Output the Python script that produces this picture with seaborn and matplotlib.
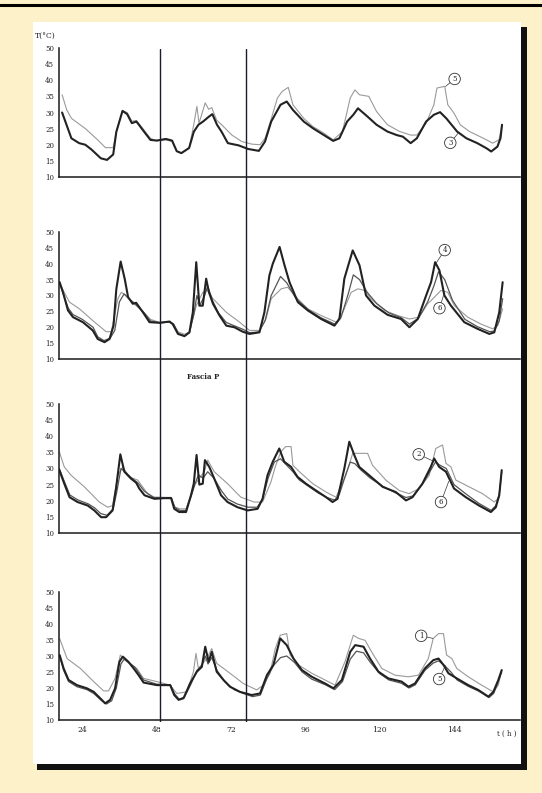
import matplotlib
matplotlib.use("Agg")
import matplotlib.pyplot as plt
import seaborn as sns
from matplotlib.patches import Rectangle
from matplotlib.lines import Line2D

# --- dati (ore, temperatura °C) ---
# Pannello 1
p1_thick_t = [17.5, 19, 20.5, 23, 25, 27, 30, 32, 34, 35,
              37, 38.5, 40, 41.5, 44, 46, 48, 51, 53, 54.5,
              56, 58.5, 60, 61.5, 63, 65, 66, 67.5, 69, 71,
              74.5, 77.5, 81, 83, 85, 88, 90, 92, 95.5, 98.5,
              102, 105, 107, 109.5, 111.5, 113, 116, 119, 122.5, 125.5,
              127.5, 130, 132, 135, 137.5, 139.5, 141.5, 145, 148, 151.5,
              154.5, 156, 158, 159, 159.5]
p1_thick_T = [30, 26, 22, 20.5, 20, 18.5, 15.8, 15.3, 17, 24,
              30.5, 29.5, 26.7, 27.2, 24, 21.5, 21.3, 21.8, 21.3, 18,
              17.4, 19, 24, 26.2, 27.2, 28.8, 29.5, 26.2, 24, 20.5,
              19.8, 18.7, 18.1, 21, 27.2, 32.4, 33.4, 30.8, 27.2, 25.1,
              23, 21.2, 22, 27.2, 29.3, 31.3, 28.8, 26.2, 24.1, 23,
              22.5, 20.5, 22, 27.2, 29.3, 30.1, 28.2, 24.1, 22, 20.5,
              18.9, 17.9, 19.4, 22, 26.2]
p1_thin_t = [17.5, 19, 20.5, 25, 29, 31.5, 34, 35, 37, 38.5,
             40, 41.5, 44, 46, 48, 51, 53, 54.5, 56, 58.5,
             60, 61, 61.7, 63.7, 64.8, 65.8, 67.4, 69, 72.3, 75.5,
             78.7, 81.4, 83, 85, 87, 88.5, 90.5, 92, 95.5, 98.5,
             102, 105, 108, 110.5, 112, 113.5, 116.5, 119, 122.5, 126.5,
             130, 132, 135, 137.5, 138.5, 141, 142, 144, 146, 149,
             153.5, 156.5, 158.5, 159.5]
p1_thin_T = [35.5, 30.8, 28.2, 25, 21.5, 19.1, 19.1, 24, 30.5, 30,
             27.3, 27.5, 24.5, 22, 21.2, 21.5, 21, 18, 17.5, 19,
             26.2, 31.9, 26.7, 33, 31, 31.5, 27.6, 26.2, 23, 21,
             20.2, 20, 22, 28, 34.5, 36.5, 37.8, 32.4, 28.2, 25.6,
             23.6, 21.5, 24.1, 34.5, 37, 35.5, 35, 30.3, 26.2, 24.1,
             23, 23, 26.7, 32.4, 37.6, 38.1, 32.4, 29.8, 26.2, 24.1,
             22, 20.5, 21.5, 26.2]

# Pannello 2
p2_thick_t = [16.7, 17.8, 19.4, 21, 24.2, 27.4, 29, 31.2, 32.8, 34.1,
              35, 36.4, 37.7, 38.8, 40.3, 41.4, 43.6, 45.7, 49, 52.2,
              53.2, 54.9, 57, 58.6, 59.7, 60.8, 61.8, 62.9, 64, 64.9,
              66.2, 68.3, 70.5, 73.1, 75.8, 78, 81.2, 82.8, 84.4, 85.5,
              87.7, 89.3, 90.9, 93.6, 96.8, 101.1, 105.4, 107, 108.6, 111.3,
              113.5, 115.6, 118.3, 122.6, 126.9, 129.6, 132.3, 135, 136.6, 137.9,
              139.3, 140.9, 143, 147.3, 151.6, 155.4, 157, 158.6, 159.7]
p2_thick_T = [34.2, 31, 25.3, 23.2, 21.6, 19, 16.3, 15.3, 16.3, 20.5,
              32, 40.7, 35.3, 29.5, 27.4, 27.7, 24.7, 21.6, 21.4, 21.8,
              21, 17.9, 17.2, 18.4, 24.7, 40.5, 26.8, 26.8, 35.3, 31,
              27.4, 23.7, 20.5, 20, 18.6, 17.9, 18.4, 24.7, 36.3, 40,
              45.3, 39.5, 34.2, 27.9, 25.3, 22.6, 20.5, 22.6, 35.3, 44.2,
              39.5, 30, 26.8, 23.9, 22.6, 20, 22.6, 30, 34.2, 40.5,
              37.9, 30, 26.8, 21.6, 19.5, 17.9, 18.4, 24.7, 34.2]
p2_mid_t = [16.7, 18, 19.5, 21, 24, 27.5, 29, 31, 33, 34.5,
            36, 37.5, 39, 41, 44, 46, 49, 52, 53.5, 55,
            57, 58.6, 60, 61, 62, 63.5, 64.5, 66, 68, 70.5,
            73, 76, 78, 81, 83, 85, 88, 90, 93, 97,
            101, 105.5, 107.5, 110, 111.5, 113.5, 116, 119, 123, 127,
            129.6, 132.5, 135.5, 137.5, 139, 141, 143.5, 147.5, 151.5, 155.5,
            157, 158.6, 159.7]
p2_mid_T = [34, 30, 26, 24, 22.5, 20, 17, 15.8, 16.5, 19,
            28, 30.5, 29, 27.5, 24.5, 22, 21.4, 21.6, 21, 18,
            17.3, 18.3, 24, 30, 27, 30, 33, 28.5, 24.5, 21.5,
            20.5, 19.3, 18.3, 18.5, 22, 30, 36, 34, 29, 25.5,
            23, 21, 23, 31, 36.5, 35, 31, 27.5, 24.5, 23,
            21, 22.8, 28, 33, 37.5, 35, 28.5, 22.5, 20.2, 18.6,
            18.8, 22, 29]
p2_thin_t = [16.7, 19.9, 23.1, 27.4, 31.7, 33.4, 35.5, 36.6, 38.2, 40.3,
             43.6, 46, 49, 52.2, 53.5, 55, 57, 58.6, 60.8, 62.9,
             64.5, 66.2, 70.5, 74.8, 78, 81.2, 83.3, 85, 88.2, 90.3,
             93, 96.8, 101.1, 106, 108.1, 110.8, 113, 115.1, 117.2, 121.5,
             125.8, 129.6, 132.8, 135.5, 137.7, 139.8, 142, 144.1, 148.4, 152.7,
             156.5, 158.1, 159.7]
p2_thin_T = [33.7, 27.9, 25.8, 22.1, 18.6, 18.6, 29, 31, 30, 27.7,
             25, 22.5, 21.5, 21.8, 21, 18.5, 17.8, 18.5, 26.8, 31,
             31.6, 29, 24.7, 21.6, 19, 19, 22.6, 29, 32.1, 32.6,
             29.5, 25.8, 23.7, 21.6, 24.7, 31, 32.1, 31.6, 29, 25.3,
             23.7, 22.6, 23.2, 27.4, 29.5, 31.6, 31, 26.8, 23.2, 21,
             19.5, 20.5, 25.8]

# Pannello 3
p3_thick_t = [16.6, 18.2, 19.9, 22.5, 25.8, 27.9, 30.1, 31.7, 33.8, 34.9,
              36.3, 37.6, 39.7, 41.4, 42.4, 44.1, 47.3, 50.5, 52.7, 53.7,
              55.3, 57.5, 59.1, 60, 60.9, 61.8, 62.9, 63.6, 65, 66.6,
              68.8, 70.9, 74.1, 77.4, 80.6, 82.2, 83.8, 85.5, 87.6, 89.2,
              91.4, 93.5, 96.2, 99.4, 102.7, 104.8, 106.4, 108.6, 110.2, 111.8,
              113.4, 116.6, 121, 125.2, 128.5, 130.6, 133.8, 136.5, 137.6, 139.2,
              141.4, 144, 147.8, 152.1, 155.9, 157.5, 158.6, 159.4]
p3_thick_T = [29.5, 25.3, 21.1, 19.6, 18.5, 17, 14.9, 14.9, 17, 23.8,
              34.4, 29, 26.9, 25.6, 23.8, 21.7, 20.6, 20.8, 20.8, 17.5,
              16.5, 16.5, 21.7, 25.3, 34.2, 25, 25.3, 32.6, 30.5, 26.9,
              21.7, 19.6, 18, 17, 17.5, 20.6, 27.9, 32.1, 36.2, 32.1,
              30.5, 27.4, 25.3, 23.2, 21.1, 19.6, 20.6, 30, 38.3, 34.2,
              30.5, 27.9, 24.3, 22.7, 20.1, 21.1, 25.3, 30.5, 33.1, 30.5,
              29, 23.8, 21.1, 18.5, 16.5, 18, 21.7, 29.5]
p3_mid_t = [16.6, 18.2, 20, 22.5, 26, 28, 30, 32, 34, 35.2,
            36.5, 38, 40, 42, 44, 47, 50.5, 52.7, 53.8, 55.5,
            57.5, 59.2, 60.5, 61.5, 63, 64.5, 66.5, 69, 71, 74,
            77.5, 80.5, 82.2, 84, 86, 88, 90, 92, 94, 97,
            100, 103, 105.5, 107, 109, 110.5, 112, 114, 117, 121,
            125, 128.5, 130.8, 134, 136.5, 138, 139.5, 141.5, 144, 148,
            152, 156, 157.5, 158.6, 159.4]
p3_mid_T = [30, 26, 21.8, 20.3, 19, 17.8, 16, 15.5, 17.5, 23,
            30, 28.8, 27, 25.5, 23, 21, 21, 21, 18, 17,
            17, 21.5, 25.5, 28, 27, 29, 27, 23, 20.5, 19,
            18, 18, 20.5, 27, 32, 33, 31, 29, 26.5, 24.5,
            22.5, 21, 20.2, 22, 28, 32, 31.5, 29.5, 27, 24.5,
            22.5, 21, 21.5, 25.5, 29.5, 32, 31, 30, 25, 22,
            19.2, 17, 18.5, 22, 29]
p3_thin_t = [16.6, 18.2, 20.4, 24.7, 29.5, 32.2, 33.8, 35.5, 37.1, 39.2,
             41.9, 45.1, 47.3, 50.5, 52.7, 54, 55.5, 57.5, 60.2, 63.4,
             64.5, 66.6, 70.9, 75.2, 79.5, 82.2, 84.9, 86.3, 88.1, 89.7,
             91.4, 92, 94.1, 98.4, 102.7, 105.9, 109.1, 111.3, 113.4, 116.1,
             117.7, 122, 126.3, 129.5, 132.8, 136, 138.1, 140.3, 141.4, 143,
             144.6, 148.9, 153.2, 157, 158.6]
p3_thin_T = [35.2, 30.5, 27.9, 24.3, 19.6, 18, 18.5, 27.9, 30.5, 27.4,
             26.4, 22.2, 21.1, 21, 21, 18, 17.5, 17.5, 24.8, 29,
             32.6, 29, 25.3, 21.1, 19.6, 19.6, 25.8, 30.5, 35.2, 36.8,
             36.8, 31, 29, 25.3, 22.7, 21.1, 27.9, 34.7, 34.7, 34.7,
             31, 26.4, 23.2, 22.2, 23.8, 27.9, 36.2, 37.3, 31.6, 30.5,
             26.4, 24.3, 22.2, 19.6, 21.1]

# Pannello 4
p4_thick_t = [16.7, 18, 19.6, 22.3, 25.5, 27.7, 30.3, 31.4, 33, 34.6,
              36, 37.1, 38.9, 40.6, 42.2, 43.8, 48.1, 52.4, 53.7, 55.1,
              56.7, 58.8, 61, 62.6, 63.7, 64.8, 65.8, 67.4, 69.6, 71.7,
              74.9, 78.7, 81.4, 83.6, 85.7, 87.9, 90, 92.2, 94.9, 98.1,
              102.4, 105.1, 107.8, 110.5, 112.1, 114.8, 116.9, 119.6, 122.8, 127.1,
              129.3, 131.4, 134.6, 137.3, 139, 140.6, 142.2, 144.9, 148.6, 151.8,
              155.1, 156.7, 158.3, 159.4]
p4_thick_T = [30.3, 26.1, 22.5, 20.9, 19.9, 18.8, 16.3, 15.2, 16.3, 19.9,
              28.2, 29.8, 28.2, 26.1, 24, 21.7, 20.9, 20.9, 17.8, 16.3,
              16.8, 21.4, 25.1, 26.6, 32.9, 28.2, 31.3, 25.1, 22.5, 20.4,
              18.8, 17.8, 18.3, 24, 27.2, 35.5, 33.4, 29.2, 25.6, 23.5,
              21.4, 19.9, 22.5, 31.3, 33.4, 32.9, 29.2, 25.1, 23, 22,
              20.4, 21.4, 26.1, 28.7, 29.2, 27.2, 24.6, 23, 20.9, 19.4,
              17.3, 18.8, 22.5, 25.6]
p4_mid_t = [16.7, 18, 19.6, 22.3, 25.5, 27.7, 30.3, 31.8, 33.5, 35,
            36.5, 37.5, 39, 41, 43.8, 48, 52.4, 53.8, 55.3, 57,
            59, 61, 62.6, 63.7, 64.6, 65.8, 67.5, 70, 73, 76,
            79, 81.5, 83.6, 85.7, 88, 90, 92.5, 95, 98, 102.5,
            105.5, 108, 110.5, 112.5, 114.8, 117, 120, 123, 127, 129.5,
            131.5, 134.6, 137.3, 139, 141, 143, 145, 148.6, 152, 155.3,
            156.8, 158.3, 159.4]
p4_mid_T = [30, 25.5, 22, 20.4, 19.5, 18.3, 16, 15, 16, 20,
            27.5, 29, 28, 26.5, 22.5, 21.2, 21, 18.2, 16.5, 17.2,
            21, 25.5, 27, 30, 27.5, 29.5, 25.5, 22, 19.5, 18.3,
            17.3, 17.8, 23, 27, 29.5, 30, 28, 25, 22.8, 21,
            19.5, 22, 29, 31.5, 31, 28, 24.5, 22.5, 21.5, 20,
            21, 25.5, 27.8, 28.5, 27, 25, 22.5, 20.5, 19, 17,
            18.3, 22, 25]
p4_thin_t = [16.7, 19.1, 23.4, 27.7, 30.9, 32.5, 34.6, 36.3, 38.4, 41.6,
             43.8, 48.1, 52.4, 54.5, 57.8, 59.9, 60.7, 61.5, 64.2, 65.8,
             67.4, 71.7, 76, 80.3, 82.5, 84.6, 86.3, 87.9, 90, 91.1,
             93.8, 98.1, 102.4, 105.6, 108.8, 111.5, 113.2, 115.3, 117.4, 120.7,
             125, 129.3, 132.5, 135.7, 137.3, 139, 140.6, 141.6, 143.3, 144.9,
             148.6, 152.9, 156.7, 158.3, 159.4]
p4_thin_T = [35.5, 29.2, 26.1, 22, 19.1, 19.1, 23, 30.3, 28.2, 26.1,
             23, 22, 20.9, 18.3, 18.8, 25.1, 30.8, 26.1, 29.2, 32.3,
             27.7, 24.6, 21.4, 19.4, 20.9, 24.6, 32.3, 36.5, 37, 30.3,
             27.2, 24.6, 22.5, 20.9, 28.2, 36.5, 35.5, 34.9, 31.3, 26.1,
             24, 23.5, 24, 29.2, 35.5, 37, 37, 30.3, 29.2, 26.1,
             23.5, 20.9, 18.8, 20.9, 25.6]

x_ticks = [24, 48, 72, 96, 120, 144]
y_ticks = [10, 15, 20, 25, 30, 35, 40, 45, 50]
linee_verticali = [49.2, 76.8]

# etichette cerchiate: (testo, posizione cerchio, punto sulla curva)
etichette = [
    [("5", (144.2, 40.4), (141.3, 38.1)), ("3", (142.8, 20.6), (145.5, 23.8))],
    [("4", (141.0, 44.3), (138.3, 40.3)), ("6", (139.3, 26.0), (140.6, 30.0))],
    [("2", (132.6, 34.4), (136.8, 32.5)), ("6", (139.8, 19.6), (142.3, 26.0))],
    [("1", (133.4, 36.3), (137.2, 35.5)), ("5", (139.2, 22.8), (141.2, 27.0))],
]

W, H = 542, 793
sns.set_style("white")
plt.rcParams['font.family'] = ['DejaVu Serif']

fig = plt.figure(figsize=(W / 100, H / 100), dpi=100)
fig.patch.set_facecolor('#FCF1C8')

# foglio con ombra nera
fig.add_artist(Rectangle((37 / W, 1 - 770 / H), 490 / W, 743 / H, transform=fig.transFigure,
                         fc='#111111', ec='none', zorder=-3))
fig.add_artist(Rectangle((33 / W, 1 - 764 / H), 488 / W, 742 / H, transform=fig.transFigure,
                         fc='white', ec='none', zorder=-2))
fig.add_artist(Line2D([0, 1], [1 - 4.5 / H] * 2, transform=fig.transFigure, color='black', lw=2.2))

stile = {
    'thick': dict(color='#222222', linewidth=1.5),
    'mid': dict(color='#555555', linewidth=0.9),
    'thin': dict(color='#9a9a9a', linewidth=0.8),
}
pannelli = [
    (48, 177, [('thin', p1_thin_t, p1_thin_T), ('thick', p1_thick_t, p1_thick_T)]),
    (232, 359, [('thin', p2_thin_t, p2_thin_T), ('mid', p2_mid_t, p2_mid_T), ('thick', p2_thick_t, p2_thick_T)]),
    (404, 533, [('thin', p3_thin_t, p3_thin_T), ('mid', p3_mid_t, p3_mid_T), ('thick', p3_thick_t, p3_thick_T)]),
    (592, 720, [('thin', p4_thin_t, p4_thin_T), ('mid', p4_mid_t, p4_mid_T), ('thick', p4_thick_t, p4_thick_T)]),
]
xlim = (16.5, 165.3)
left, width = 59 / W, 461 / W

for i, (top, bot, serie) in enumerate(pannelli):
    ax = fig.add_axes([left, 1 - bot / H, width, (bot - top) / H])
    ax.set_facecolor('none')
    for tipo, tt, TT in serie:
        sns.lineplot(x=tt, y=TT, ax=ax, sort=False, estimator=None, **stile[tipo])
    ax.set_xlim(*xlim)
    ax.set_ylim(10, 50)
    sns.despine(ax=ax)
    for s in ['left', 'bottom']:
        ax.spines[s].set_color('#1a1a1a')
        ax.spines[s].set_linewidth(1.1)
    ax.set_yticks(y_ticks)
    ax.tick_params(axis='y', direction='inout', length=3, width=0.7, labelsize=5, pad=2, colors='#222')
    if i == 3:
        ax.set_xticks(x_ticks)
        ax.tick_params(axis='x', direction='inout', length=3, width=0.7, labelsize=5.5, pad=3, colors='#222')
    else:
        ax.set_xticks([])
    for testo, pos, punto in etichette[i]:
        ax.annotate(testo, xy=punto, xytext=pos, fontsize=5, ha='center', va='center', color='#222',
                    bbox=dict(boxstyle='circle,pad=0.25', fc='white', ec='#333333', lw=0.6),
                    arrowprops=dict(arrowstyle='-', color='#333333', lw=0.5, shrinkA=0, shrinkB=0))

# linee verticali che attraversano tutti i pannelli
ov = fig.add_axes([left, 1 - 722 / H, width, (722 - 49) / H])
ov.set_xlim(*xlim)
ov.axis('off')
for xv in linee_verticali:
    ov.axvline(xv, color='#1c1c30', lw=1.0)

fig.text(35 / W, 1 - 36 / H, 'T(°C)', fontsize=5.5, ha='left', va='center', color='#222')
fig.text(203 / W, 1 - 377 / H, 'Fascia P', fontsize=5, weight='bold', ha='center', va='center', color='#222')
fig.text(507 / W, 1 - 734 / H, 't ( h )', fontsize=5, ha='center', va='center', color='#222')

fig.savefig('out.png', dpi=100, facecolor=fig.get_facecolor())
